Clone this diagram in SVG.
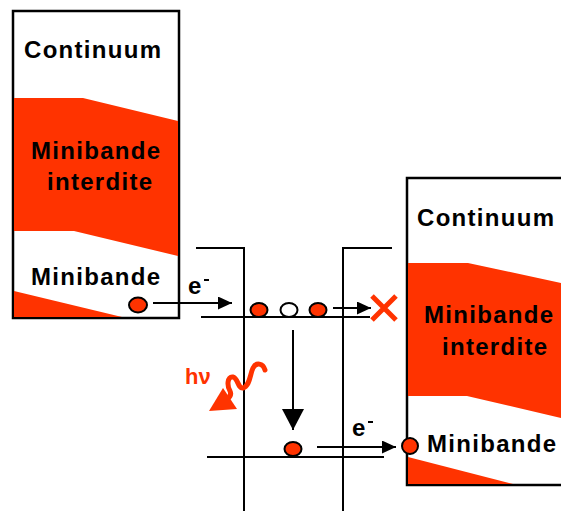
<svg xmlns="http://www.w3.org/2000/svg" width="561" height="511" viewBox="0 0 561 511">
<defs>
<style>
.lbl{font-family:"Liberation Sans",Arial,sans-serif;font-weight:bold;font-size:24px;letter-spacing:1.3px;fill:#000}
.band{fill:#ff3300}
.box{fill:#fff;stroke:#000;stroke-width:2.5}
.ln{fill:none;stroke:#000;stroke-width:2}
.el{stroke:#000;stroke-width:2}
.e{font-family:"Liberation Sans",Arial,sans-serif;font-weight:bold;font-size:24px;fill:#000}
</style>
<marker id="ah" markerWidth="14" markerHeight="13" refX="14" refY="6.5" orient="auto" markerUnits="userSpaceOnUse"><path d="M0,0 L14,6.5 L0,13 Z" fill="#000"/></marker>
<marker id="ahBig" markerWidth="21" markerHeight="22" refX="21" refY="11" orient="auto" markerUnits="userSpaceOnUse"><path d="M0,0 L21,11 L0,22 Z" fill="#000"/></marker>
</defs>
<g id="left-box">
<rect class="box" x="13" y="11" width="166" height="307"/>
<path class="band" d="M14,98 L83,98 L178,121 L178,256 L74,231 L14,231 Z"/>
<path class="band" d="M14,291 L122,317 L14,317 Z"/>
<text class="lbl" x="24" y="58">Continuum</text>
<text class="lbl" x="31" y="159">Minibande</text>
<text class="lbl" x="47" y="190">interdite</text>
<text class="lbl" x="31" y="285">Minibande</text>
</g>
<g id="right-box">
<rect class="box" x="407" y="178" width="170" height="307"/>
<path class="band" d="M408,263 L468,263 L561,283 L561,418 L467,396 L408,396 Z"/>
<path class="band" d="M408,457 L513,484 L408,484 Z"/>
<text class="lbl" x="417" y="226">Continuum</text>
<text class="lbl" x="424" y="323">Minibande</text>
<text class="lbl" x="442" y="355">interdite</text>
<text class="lbl" x="427" y="452">Minibande</text>
</g>
<g id="well">
<path class="ln" d="M196,248 L244,248 L244,511"/>
<path class="ln" d="M343,511 L343,248 L392,248"/>
</g>
<g id="levels">
<line class="ln" x1="201" y1="317" x2="370" y2="317"/>
<line class="ln" x1="207" y1="457" x2="384" y2="457"/>
</g>
<g id="connectors">
<line class="ln" x1="153" y1="303" x2="232" y2="303" marker-end="url(#ah)"/>
<line class="ln" x1="333" y1="308" x2="371" y2="308" marker-end="url(#ah)"/>
<line class="ln" x1="293" y1="330" x2="293" y2="430" marker-end="url(#ahBig)"/>
<line class="ln" x1="317" y1="447" x2="396" y2="447" marker-end="url(#ah)"/>
</g>
<g id="electrons">
<ellipse class="el" cx="138" cy="305" rx="9" ry="7.5" fill="#ff3300"/>
<ellipse class="el" cx="259" cy="310" rx="8.5" ry="7" fill="#ff3300"/>
<ellipse class="el" cx="289" cy="310" rx="8.5" ry="7" fill="#fff"/>
<ellipse class="el" cx="318" cy="310" rx="8.5" ry="7" fill="#ff3300"/>
<ellipse class="el" cx="293" cy="449" rx="8.5" ry="7" fill="#ff3300"/>
<circle class="el" cx="410" cy="446" r="8" fill="#ff3300"/>
</g>
<g id="labels">
<text class="e" x="188" y="294">e</text>
<line x1="204" y1="280" x2="209" y2="280" stroke="#000" stroke-width="2"/>
<text class="e" x="352" y="436">e</text>
<line x1="368" y1="422" x2="373" y2="422" stroke="#000" stroke-width="2"/>
</g>
<g id="cross">
<path d="M372,296 L396,320 M396,296 L372,320" stroke="#ff3300" stroke-width="5" fill="none"/>
</g>
<g id="photon">
<text x="185" y="384" font-family="'Liberation Sans',Arial,sans-serif" font-weight="bold" font-size="22" fill="#ff3300">hν</text>
<path d="M265,370 C263,363 256,362 253,368 C250,374 250,386 243,388 C238,389 238,378 233,377 C227,376 227,386 230,391 C232,395 229,398 226,400" stroke="#ff3300" stroke-width="5" fill="none" stroke-linecap="round"/>
<path d="M209,411 L223,388 L237,409 Z" fill="#ff3300"/>
</g>
</svg>
